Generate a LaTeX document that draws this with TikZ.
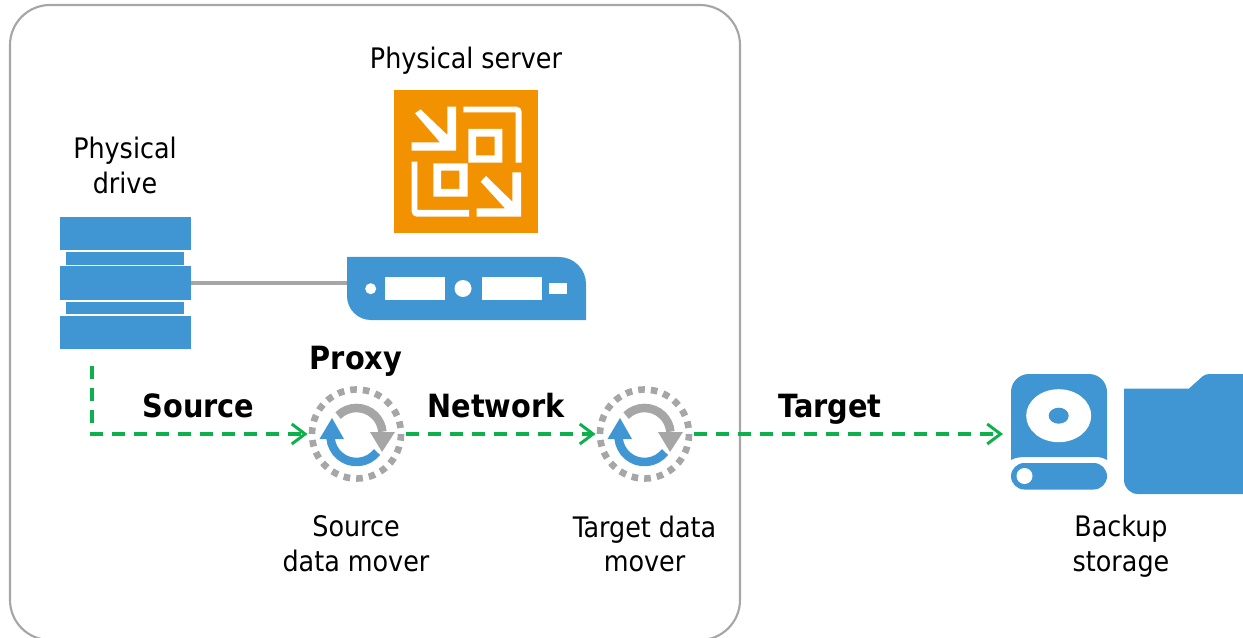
\documentclass[tikz,border=0pt]{standalone}
\usepackage{fontspec}
\setmainfont{DejaVu Sans Condensed}
\definecolor{vblue}{HTML}{4095D3}
\definecolor{vorange}{HTML}{F39200}
\definecolor{vgrey}{HTML}{A6A6A6}
\definecolor{vgreen}{HTML}{0CB14B}
\usetikzlibrary{arrows.meta}
\tikzset{
  lbl/.style={font=\fontsize{21.2}{26}\selectfont,align=center,text=black,inner sep=0pt},
  blbl/.style={font=\fontsize{24}{27}\selectfont\bfseries,text=black,inner sep=0pt},
  hit/.style={inner sep=0pt,outer sep=0pt,draw=none,fill=none},
  flow/.style={draw=vgreen,line width=2.3pt,dash pattern=on 10pt off 6.5pt,-{Straight Barb[length=10pt,width=15pt,line width=2.2pt]}},
  link/.style={draw=vgrey,line width=2.4pt},
  wht/.style={fill=white,draw=none}
}
\newcommand{\moverart}[2]{%
  \begin{scope}[shift={(#1,#2)}]
    \draw[vgrey,line width=5pt,dash pattern=on 5pt off 4.53pt] (0,0) circle (44.5);
    \draw[vgrey,line width=6.4pt] (-18.4,-18.4) arc (-135:-5:26);
    \fill[vgrey] (13.5,-2) -- (38.5,-2) -- (25.5,18) -- cycle;
    \draw[vblue,line width=6.4pt] (-25.9,4.3) arc (175:38:26);
    \fill[vblue] (-37,5) -- (-12.5,5) -- (-24.5,-16) -- cycle;
  \end{scope}}
\begin{document}
\begin{tikzpicture}[x=0.75pt,y=-0.75pt]
\useasboundingbox (0,0) rectangle (1243,638);
% frame
\draw[vgrey,line width=1.6pt,rounded corners=30pt] (10,5) rectangle (740,640);
% server icon
\fill[vorange] (394,90) rectangle (538,233);
\begin{scope}[shift={(380,80)},x=0.25pt,y=-0.25pt]
  \fill[wht] (105,100) -- (122,88) -- (202,165) -- (202,80) -- (228,80) -- (228,212) -- (95,212) -- (95,187) -- (180,187) -- cycle;
  \fill[wht] (250,80) -- (410,80) arc (-90:0:15) -- (425,248) -- (407,248) -- (407,97) -- (250,97) -- cycle;
  \fill[wht,even odd rule] (265,147) rectangle (367,248) (288,170) rectangle (344,226);
  \fill[wht,even odd rule] (160,250) rectangle (263,350) (183,272) rectangle (238,327);
  \fill[wht] (95,245) -- (112,245) -- (112,390) -- (267,390) -- (267,410) -- (110,410) arc (90:180:15) -- cycle;
  \fill[wht] (302,305) -- (318,288) -- (397,365) -- (397,277) -- (423,277) -- (423,410) -- (290,410) -- (290,385) -- (375,385) -- cycle;
\end{scope}
% server box
\fill[vblue] (347,257) -- (559,257) arc (-90:0:27) -- (586,320) -- (371,320) arc (90:180:24) -- cycle;
\fill[wht] (384.5,277) rectangle (445,300);
\fill[wht] (482,277) rectangle (542,300);
\fill[wht] (549,283) rectangle (567,294);
\fill[wht] (463,288.5) circle (8.5);
\fill[wht] (370.7,288.7) circle (5.5);
\node[hit,minimum width=179.25pt,minimum height=47.25pt] (server) at (466.5,288.5) {};
% drive
\fill[vblue] (60,217) rectangle (191,250);
\fill[vblue] (66,252) rectangle (184,265);
\fill[vblue] (60,266.5) rectangle (191,300);
\fill[vblue] (66,301.5) rectangle (184,314);
\fill[vblue] (60,315.5) rectangle (191,349);
\node[hit,minimum width=98.25pt,minimum height=99pt] (drive) at (125.5,283) {};
% movers
\moverart{356.5}{434}
\moverart{644.5}{434}
\node[hit,circle,minimum size=73.5pt] (src) at (356.5,434) {};
\node[hit,circle,minimum size=73.5pt] (tgt) at (644.5,434) {};
% HDD
\fill[vblue] (1011,460) -- (1011,392) arc (180:270:18) -- (1089,374) arc (270:360:18) -- (1107,460) .. controls (1100,456) and (1095,457) .. (1090,457) -- (1028,457) .. controls (1022,457) and (1016,457) .. (1011,460) -- cycle;
\fill[wht] (1058.7,415.7) ellipse (32.5 and 26.5);
\fill[vblue] (1058.7,415.7) ellipse (10 and 8);
\fill[vblue,rounded corners=10pt] (1011,463) rectangle (1107,489.5);
\fill[wht] (1024.5,476) circle (8);
% folder
\fill[vblue] (1124,388.5) -- (1189,388.5) -- (1203,376) .. controls (1205,374.5) and (1207,374) .. (1210,374) -- (1243,374) -- (1243,494) -- (1138,494) arc (90:180:14) -- cycle;
\node[hit,minimum width=72pt,minimum height=87pt] (store) at (1059,432) {};
% connectors
\coordinate (dstart) at (92,366);
\coordinate (dcorner) at (92,434);
\draw[link] (drive.east) -- (drive.east -| server.west);
\draw[flow] (dstart) -- (dcorner) -- (src.west);
\draw[flow] (src.east) -- (tgt.west);
\draw[flow,shorten >=6pt] (tgt.east) -- (store.west |- tgt.east);
% labels
\node[lbl] (t1) at (466,61) {Physical server};
\node[lbl] (t2) at (125,165.5) {Physical\\drive};
\node[blbl] (t3) at (356,361) {Proxy};
\node[blbl] (t4) at (198.5,406) {Source};
\node[blbl] (t5) at (496,406) {Network};
\node[blbl] (t6) at (830,409) {Target};
\node[lbl] (t7) at (356,544) {Source\\data mover};
\node[lbl] (t8) at (644.5,544) {Target data\\mover};
\node[lbl] (t9) at (1121,546.5) {Backup\\storage};
\end{tikzpicture}
\end{document}
